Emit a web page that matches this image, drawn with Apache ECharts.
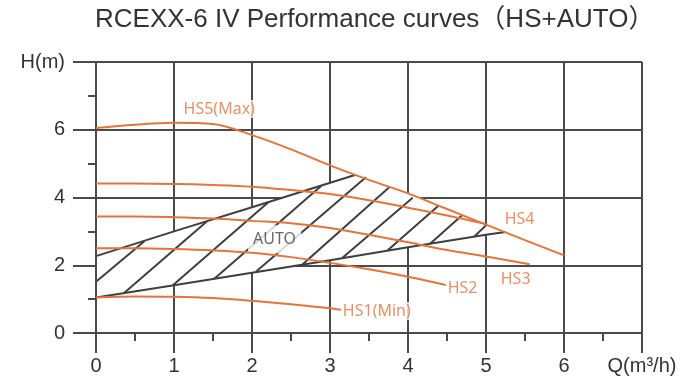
<!DOCTYPE html>
<html>
<head>
<meta charset="utf-8">
<script src="https://cdn.jsdelivr.net/npm/echarts@6/dist/echarts.min.js"></script>
<style>html,body{margin:0;padding:0;background:#fff;}#c{width:684px;height:381px;}</style>
</head>
<body>
<div id="c"></div>
<script>
// ---- data ----
const xTicks = [0, 1, 2, 3, 4, 5, 6, 7];          // 7 -> "Q(m³/h)"
const yTicks = [0, 2, 4, 6, 8];                    // 8 -> "H(m)"
const hs5 = [[0,6.05],[0.5,6.15],[1,6.21],[1.5,6.17],[2,5.84],[2.5,5.42],[3,4.95],[3.5,4.52],[4,4.12],[4.5,3.66],[5,3.2],[5.5,2.74],[6,2.29]];
const hs4 = [[0,4.41],[0.5,4.41],[1,4.40],[1.5,4.37],[2,4.32],[2.5,4.22],[3,4.1],[3.5,3.92],[4,3.70],[4.5,3.47],[5,3.22]];
const hs3 = [[0,3.44],[0.5,3.44],[1,3.42],[1.5,3.38],[2,3.31],[2.5,3.24],[3,3.1],[3.5,2.9],[4,2.68],[4.5,2.45],[5,2.26],[5.56,2.03]];
const hs2 = [[0,2.50],[0.5,2.50],[1,2.48],[1.5,2.44],[2,2.37],[2.5,2.24],[3,2.07],[3.5,1.88],[4,1.66],[4.5,1.41]];
const hs1 = [[0,1.05],[0.5,1.08],[1,1.07],[1.5,1.03],[2,0.95],[2.5,0.85],[3,0.73],[3.16,0.68]];
const autoTop = [[0,2.27],[1,3.0],[2,3.71],[3.33,4.67]];
const autoBottom = [[0,1.05],[1,1.41],[2,1.78],[3,2.15],[4,2.53],[5,2.9],[5.25,2.98]];
const autoRight = [[5.25,2.97],[5,3.2],[4.5,3.66],[4,4.12],[3.5,4.52],[3.33,4.67]]; // along HS5
const hatch = [
  [0,1.51,0.62,2.71],[0.36,1.18,1.42,3.29],[0.985,1.41,2.21,3.86],[1.52,1.61,2.89,4.35],
  [2.05,1.81,3.46,4.60],[2.65,2.03,3.76,4.30],[3.16,2.22,4.06,3.99],[3.74,2.44,4.39,3.76],
  [4.28,2.63,4.70,3.49],[4.85,2.85,5.01,3.20]
];
const curveNames = ['HS5(Max)','HS4','HS3','HS2','HS1(Min)'];
const curveLabelAt = [[1.58,6.61],[5.43,3.36],[5.38,1.59],[4.70,1.33],[3.60,0.65]];
const autoLabelAt = [2.29,2.77];
const titleText = 'RCEXX-6 IV Performance curves（HS+AUTO）';

// ---- styles ----
const ORANGE = '#E6733A';
const GRID = '#4a4a4a';
const HATCH = '#3f3f3f';
const TXT = '#333';

const polygon = autoBottom.concat(autoRight).concat(autoTop.slice().reverse());

const chart = echarts.init(document.getElementById('c'), null, {renderer: 'canvas'});
const curveSeries = [hs5, hs4, hs3, hs2, hs1].map(d => ({
  type: 'line', data: d, smooth: 0.35, showSymbol: false, z: 6,
  lineStyle: {color: ORANGE, width: 2}, silent: true
}));

chart.setOption({
  animation: false,
  title: {
    text: titleText, left: 90, top: 2,
    textStyle: {fontSize: 26, fontWeight: 'normal', color: TXT, fontFamily: 'Liberation Sans, Arial, Noto Sans CJK SC'}
  },
  grid: {left: 96, right: 42, top: 62, bottom: 48},
  xAxis: {
    type: 'value', min: 0, max: 7, interval: 1,
    axisLine: {show: true, lineStyle: {color: GRID, width: 2}},
    axisTick: {show: true, length: 20, lineStyle: {color: GRID, width: 2}},
    minorTick: {show: true, splitNumber: 2, length: 8, lineStyle: {color: GRID, width: 2}},
    splitLine: {show: true, lineStyle: {color: GRID, width: 2}},
    axisLabel: {
      margin: 23, fontSize: 20, color: TXT, fontFamily: 'Liberation Sans, Arial',
      formatter: v => v === xTicks[xTicks.length - 1] ? 'Q(m³/h)' : String(v)
    }
  },
  yAxis: {
    type: 'value', min: 0, max: 8, interval: 2,
    axisLine: {show: true, lineStyle: {color: GRID, width: 2}},
    axisTick: {show: true, length: 23, lineStyle: {color: GRID, width: 2}},
    minorTick: {show: true, splitNumber: 2, length: 8, lineStyle: {color: GRID, width: 2}},
    splitLine: {show: true, lineStyle: {color: GRID, width: 2}},
    axisLabel: {
      margin: 31, fontSize: 20, color: TXT, fontFamily: 'Liberation Sans, Arial',
      formatter: v => v === yTicks[yTicks.length - 1] ? 'H(m)' : String(v)
    }
  },
  series: [
    {
      type: 'custom', z: 2, silent: true, data: [0],
      renderItem: (params, api) => ({
        type: 'polygon',
        shape: {points: polygon.map(p => api.coord(p))},
        style: {fill: '#fff', stroke: null}
      })
    },
    {
      type: 'custom', z: 3, silent: true, data: hatch,
      renderItem: (params, api) => {
        const a = api.coord([api.value(0), api.value(1)]);
        const b = api.coord([api.value(2), api.value(3)]);
        return {type: 'line', shape: {x1: a[0], y1: a[1], x2: b[0], y2: b[1]},
          style: {stroke: HATCH, lineWidth: 2}};
      }
    },
    {type: 'line', data: autoTop, showSymbol: false, z: 3, silent: true, lineStyle: {color: HATCH, width: 2}},
    {type: 'line', data: autoBottom, showSymbol: false, z: 3, silent: true, lineStyle: {color: HATCH, width: 2}},
    {type: 'line', data: [[0, autoBottom[0][1]], [0, autoTop[0][1]]], showSymbol: false, z: 3, silent: true, lineStyle: {color: GRID, width: 2}},
    {
      type: 'scatter', z: 4, silent: true, symbolSize: 0, data: [autoLabelAt],
      label: {show: true, position: 'inside', formatter: 'AUTO', color: '#444', fontSize: 16,
        fontFamily: 'Noto Sans', backgroundColor: '#fff', padding: [6, 5]}
    },
    ...curveSeries,
    {
      type: 'scatter', z: 7, silent: true, symbolSize: 0,
      data: curveLabelAt.map((p, i) => ({value: p, name: curveNames[i]})),
      label: {show: true, position: 'inside', formatter: p => p.name, color: ORANGE, fontSize: 16,
        fontFamily: 'Noto Sans', backgroundColor: '#fff', padding: [1, 2]}
    }
  ]
});
</script>
</body>
</html>
